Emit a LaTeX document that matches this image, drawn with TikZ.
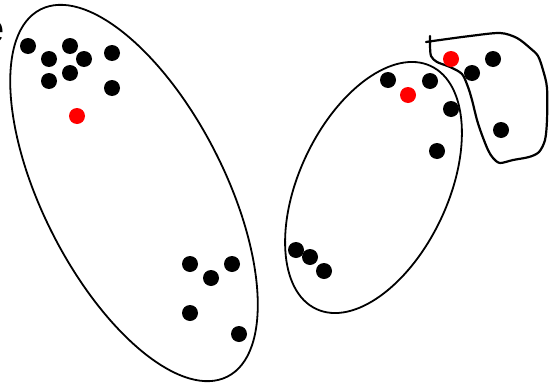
\documentclass[tikz,border=0pt]{standalone}
\usepackage{fontspec}
\setmainfont{Liberation Sans}
\usepackage{xcolor}
\usepackage{tikz}
\definecolor{Dotred}{HTML}{FF0000}

\begin{document}
\begin{tikzpicture}[
    x=1pt,y=1pt,
    dot/.style={circle,fill=black,inner sep=0pt,minimum size=16pt},
    reddot/.style={dot,fill=Dotred},
    cluster/.style={draw=black,line width=1.8pt},
    blob/.style={draw=black,line width=2.2pt,line join=round,line cap=round}
]
\useasboundingbox (0,0) rectangle (549,-383);
\node[anchor=base east,inner sep=0pt,font=\fontsize{40}{44}\selectfont] (cut) at (5,-42) {e};
% left cluster
\draw[cluster,rotate around={27:(134,-193)}] (134,-193) ellipse [x radius=91,y radius=206];
\node[dot] (l1) at (28,-46) {};
\node[dot] (l2) at (70,-46) {};
\node[dot] (l3) at (49,-59) {};
\node[dot] (l4) at (84,-59) {};
\node[dot] (l5) at (112,-53) {};
\node[dot] (l6) at (70,-73) {};
\node[dot] (l7) at (49,-81) {};
\node[dot] (l8) at (112,-88) {};
\node[reddot] (lc) at (77,-116) {};
\node[dot] (b1) at (190,-264) {};
\node[dot] (b2) at (232,-264) {};
\node[dot] (b3) at (211,-278) {};
\node[dot] (b4) at (190,-313) {};
\node[dot] (b5) at (239,-334) {};
% middle cluster
\draw[cluster,rotate around={-25.3:(373.5,-187.5)}] (373.5,-187.5) ellipse [x radius=74.4,y radius=134.3];
\node[dot] (m1) at (388,-80) {};
\node[dot] (m2) at (430,-81) {};
\node[reddot] (mc) at (408,-95) {};
\node[dot] (m3) at (451,-109) {};
\node[dot] (m4) at (437,-151) {};
\node[dot] (m5) at (296,-250) {};
\node[dot] (m6) at (310,-257) {};
\node[dot] (m7) at (324,-271) {};
% right cluster
\draw[blob] plot[smooth,tension=0.5] coordinates {(426,-42) (440,-40) (470,-36) (500,-33) (517,-38)
  (530,-48) (538,-56) (543,-70) (547,-88) (547,-120) (545,-140) (539,-152) (529,-157) (513,-160)
  (500,-163) (493,-158) (488,-150) (482,-135) (477,-120) (472,-100) (468,-87) (462,-74) (450,-67)
  (437,-62) (431,-56) (430,-45) (430,-36)};
\node[reddot] (rc) at (451,-59) {};
\node[dot] (r1) at (493,-59) {};
\node[dot] (r2) at (472,-73) {};
\node[dot] (r3) at (501,-130) {};
\end{tikzpicture}
\end{document}
